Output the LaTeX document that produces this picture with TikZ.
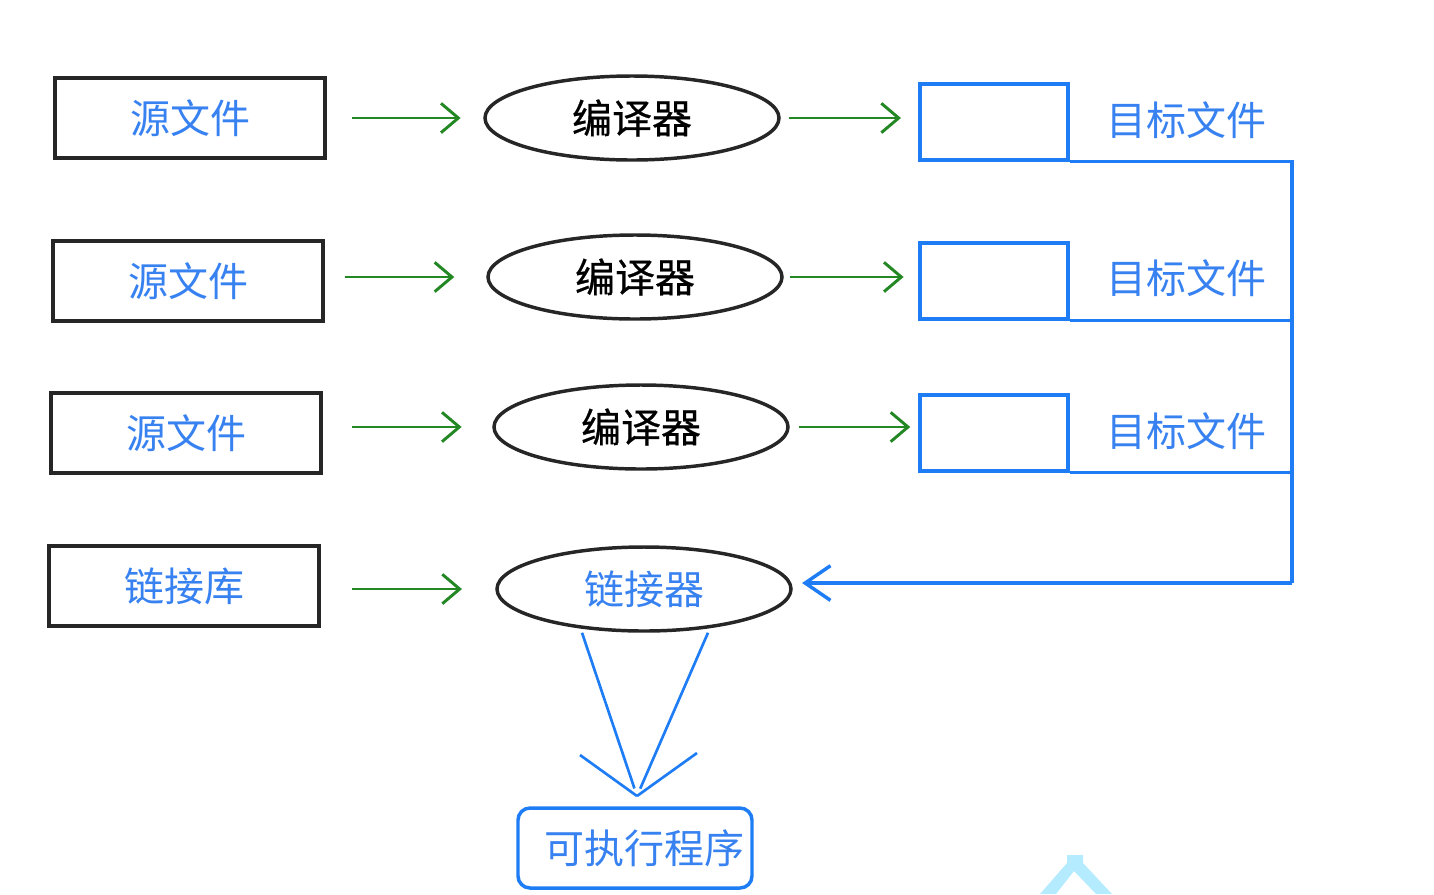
\documentclass[tikz,border=0pt]{standalone}
\usepackage{fontspec}
\setmainfont{Noto Sans CJK SC}
\newfontfamily\medfont[FakeBold=0.6]{Noto Sans CJK SC}
\usetikzlibrary{arrows.meta,shapes.geometric}

\definecolor{txtblue}{RGB}{55,130,240}
\definecolor{lnblue}{RGB}{30,125,245}
\definecolor{arrgreen}{RGB}{35,135,35}
\definecolor{wmcyan}{RGB}{180,235,255}

\tikzset{
  bigtext/.style={font=\fontsize{30}{36}\selectfont},
  srcbox/.style={draw=black!85, line width=2.8pt, minimum width=202.5pt, minimum height=60pt, inner sep=0pt, text=txtblue, bigtext},
  tool/.style={ellipse, draw=black!85, line width=2.6pt, minimum width=220.5pt, minimum height=63pt, inner sep=0pt, bigtext},
  objbox/.style={draw=lnblue, line width=2.6pt, minimum width=111pt, minimum height=57pt, inner sep=0pt},
  objlabel/.style={text=txtblue, inner sep=0pt, bigtext},
  garrow/.style={draw=arrgreen, line width=2.2pt, -{Straight Barb[length=13pt,width=22pt]}},
  bline/.style={draw=lnblue, line width=2.6pt},
}

\begin{document}
\begin{tikzpicture}[x=0.75pt,y=0.75pt,yscale=-1,xscale=1]
\useasboundingbox (0,0) rectangle (1434,894);

%Shape: source files
\node [srcbox] (src1) at (190,118) {源文件};
\node [srcbox] (src2) at (188,281) {源文件};
\node [srcbox] (src3) at (186,433) {源文件};
\node [srcbox] (lib) at (184,586) {链接库};

%Shape: Ellipses
\node [tool] (comp1) at (632,118) {\medfont 编译器};
\node [tool] (comp2) at (635,277) {\medfont 编译器};
\node [tool] (comp3) at (641,427) {\medfont 编译器};
\node [tool, text=txtblue] (linker) at (644,589) {链接器};

%Shape: object files
\node [objbox] (obj1) at (994,122) {};
\node [objbox] (obj2) at (994,281) {};
\node [objbox] (obj3) at (994,433) {};
% Text Node
\node [objlabel] (lab1) at (1186,120) {目标文件};
\node [objlabel] (lab2) at (1186,278) {目标文件};
\node [objlabel] (lab3) at (1186,431) {目标文件};

%Shape: executable
\node [draw=lnblue, line width=2.6pt, rounded corners=9pt, minimum width=175.5pt, minimum height=60pt, inner sep=0pt, text=txtblue, bigtext] (exe) at (635,848) {\hspace{14pt}可执行程序};

%Straight Lines: sources to compilers
\draw [garrow, shorten <=19pt, shorten >=17pt] (src1.east) -- (comp1.west);
\draw [garrow, shorten <=15pt, shorten >=24pt] (src2.east |- comp2.west) -- (comp2.west);
\draw [garrow, shorten <=22pt, shorten >=23pt] (src3.east |- comp3.west) -- (comp3.west);
\draw [garrow, shorten <=23pt, shorten >=25pt] (lib.east |- linker.west) -- (linker.west);

%Straight Lines: compilers to object files
\draw [garrow, shorten <=6pt, shorten >=13pt] (comp1.east) -- (comp1.east -| obj1.west);
\draw [garrow, shorten <=5pt, shorten >=11pt] (comp2.east) -- (comp2.east -| obj2.west);
\draw [garrow, shorten <=7pt, shorten >=6pt] (comp3.east) -- (comp3.east -| obj3.west);

%Straight Lines: collect object files
\coordinate (rail) at (1292,583);
\draw [bline] (obj1.south east) -- (obj1.south east -| rail) -- (rail);
\draw [bline] (obj2.south east) -- (obj2.south east -| rail);
\draw [bline] (obj3.south east) -- (obj3.south east -| rail);
\draw [bline, -{Straight Barb[length=19pt,width=26pt]}, shorten >=7pt] (rail) -- (rail -| linker.east);

%Straight Lines: linker to executable
\coordinate (merge) at (637,796);
\draw [bline, line width=2pt, shorten >=6pt] ([xshift=-46.5pt]linker.south) -- (merge);
\draw [bline, line width=2pt, shorten >=6pt] ([xshift=48pt]linker.south) -- (merge);
\draw [bline, line width=2pt] (merge) -- ++(-57,-41);
\draw [bline, line width=2pt] (merge) -- ++(60,-43);

%Shape: Polygon
\fill [wmcyan] (1040,894) -- (1067,863) -- (1067,855) -- (1083,855) -- (1083,863) -- (1112,894) -- (1096,894) -- (1074,871) -- (1056,894) -- cycle;

\end{tikzpicture}
\end{document}
